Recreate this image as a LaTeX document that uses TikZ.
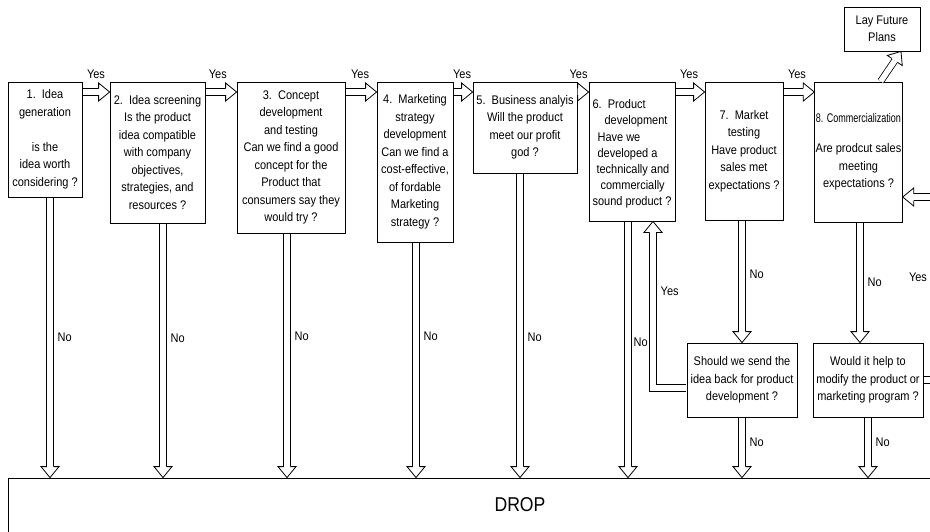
\documentclass[tikz,border=0pt]{standalone}
\usepackage{fontspec}
\setmainfont{Liberation Sans}[FakeStretch=0.88]
\usetikzlibrary{decorations.markings}

% open block-arrow head, put at the end of a hollow connector
\newcommand{\blockhead}{%
  \fill[white] (0pt,0pt) -- (-11pt,9pt) -- (-11pt,-9pt) -- cycle;
  \draw[shorten >=0pt, line join=miter] (-11pt,3.15pt) -- (-11pt,9pt)
    -- (0pt,0pt) -- (-11pt,-9pt) -- (-11pt,-3.15pt);}

\begin{document}
\begin{tikzpicture}[x=1pt, y=-1pt, line width=.8pt,
    font=\fontsize{12.5}{17.5}\selectfont,
    stage/.style={draw, fill=white, align=center, inner sep=1pt},
    hollow/.style={double, double distance=5.5pt, shorten <=.4pt, shorten >=11pt,
      postaction={decorate, decoration={markings,
        mark=at position 1 with {\blockhead}}}},
    toplabel/.style={above=10pt},
    sidelabel/.style={right, xshift=4pt}]
  \useasboundingbox (0,0) rectangle (930,531);
  \clip (0,0) rectangle (930,531);

  % stages
  \node[stage, minimum width=74pt, minimum height=115pt] (idea) at (45,139.5)
    {1.\ \ Idea\\generation\\[17.5pt]is the\\idea worth\\considering ?};
  \node[stage, minimum width=95pt, minimum height=141pt] (screen) at (157.5,152.5)
    {2.\ \ Idea screening\\Is the product\\idea compatible\\with company\\objectives,\\strategies, and\\resources ?};
  \node[stage, minimum width=108pt, minimum height=151pt] (concept) at (291,157.5)
    {3.\ \ Concept\\development\\and testing\\Can we find a good\\concept for the\\Product that\\consumers say they\\would try ?};
  \node[stage, minimum width=76pt, minimum height=160pt] (strategy) at (415,162)
    {4.\ \ Marketing\\strategy\\development\\Can we find a\\cost-effective,\\of fordable\\Marketing\\strategy ?};
  \node[stage, minimum width=104pt, minimum height=91pt] (business) at (525,127.5)
    {5.\ \ Business analyis\\Will the product\\meet our profit\\god ?};
  \node[stage, align=left, minimum width=86pt, minimum height=139pt,
    font=\fontsize{12.5}{16.2}\selectfont] (develop) at (632,151.5)
    {\mbox{}\\[-2.2pt]6.\ \ Product\\\hspace*{12pt}development\\\hspace*{5pt}Have we\\\hspace*{5pt}developed a\\\hspace*{4pt}technically and\\\hspace*{8pt}commercially\\sound product ?};
  \node[stage, minimum width=78pt, minimum height=138pt] (market) at (744,151)
    {7.\ \ Market\\testing\\Have product\\sales met\\expectations ?};
  \node[stage, minimum width=87pt, minimum height=140pt] (commerce) at (858.5,152)
    {\scalebox{.82}[1]{8. Commercialization}\\[12.5pt]Are prodcut sales\\meeting\\expectations ?};
  \node[stage, minimum width=76pt, minimum height=44pt] (future) at (882,29)
    {Lay Future\\Plans};
  \node[stage, minimum width=110pt, minimum height=74pt] (sendback) at (742,380)
    {Should we send the\\idea back for product\\development ?};
  \node[stage, minimum width=110pt, minimum height=74pt] (modify) at (868,380)
    {Would it help to\\modify the product or\\marketing program ?};
  \node[draw, fill=white, minimum width=1024pt, minimum height=54pt,
    font=\fontsize{20}{24}\selectfont] (drop) at (520,505) {DROP};

  % yes: on to the next stage
  \coordinate (yesrow) at (0,92);
  \draw[hollow] (idea.east |- yesrow) -- node[toplabel, pos=.5] {Yes} (screen.west |- yesrow);
  \draw[hollow] (screen.east |- yesrow) -- node[toplabel, pos=.4] {Yes} (concept.west |- yesrow);
  \draw[hollow] (concept.east |- yesrow) -- node[toplabel, pos=.47] {Yes} (strategy.west |- yesrow);
  \draw[hollow] (strategy.east |- yesrow) -- node[toplabel, pos=.45] {Yes} (business.west |- yesrow);
  \draw[hollow] (business.east |- yesrow) -- node[toplabel, pos=.1] {Yes} (develop.west |- yesrow);
  \draw[hollow] (develop.east |- yesrow) -- node[toplabel, pos=.47] {Yes} (market.west |- yesrow);
  \draw[hollow] (market.east |- yesrow) -- node[toplabel, pos=.44] {Yes} (commerce.west |- yesrow);
  \draw[hollow] ([xshift=22pt]commerce.north) -- ([xshift=19pt]future.south);

  % no: down to drop
  \draw[hollow] ([xshift=5pt]idea.south) coordinate (n1) -- node[sidelabel, pos=.5] {No} (n1 |- drop.north);
  \draw[hollow] ([xshift=5.5pt]screen.south) coordinate (n2) -- node[sidelabel, pos=.45] {No} (n2 |- drop.north);
  \draw[hollow] ([xshift=-4pt]concept.south) coordinate (n3) -- node[sidelabel, pos=.42] {No} (n3 |- drop.north);
  \draw[hollow] ([xshift=1pt]strategy.south) coordinate (n4) -- node[sidelabel, pos=.4] {No} (n4 |- drop.north);
  \draw[hollow] ([xshift=-5pt]business.south) coordinate (n5) -- node[sidelabel, pos=.54] {No} (n5 |- drop.north);
  \draw[hollow] ([xshift=-4pt]develop.south) coordinate (n6) -- node[sidelabel, xshift=-2pt, pos=.47] {No} (n6 |- drop.north);
  \draw[hollow] ([xshift=-2pt]market.south) coordinate (n7) -- node[sidelabel, pos=.44] {No} (n7 |- sendback.north);
  \draw[hollow] ([xshift=1.5pt]commerce.south) coordinate (n8) -- node[sidelabel, pos=.5] {No} (n8 |- modify.north);
  \draw[hollow] (sendback.south) -- node[sidelabel, pos=.41] {No} (sendback.south |- drop.north);
  \draw[hollow] (modify.south) -- node[sidelabel, pos=.41] {No} (modify.south |- drop.north);

  % yes: loops back
  \draw[hollow] ([yshift=-8pt]sendback.west) -| node[sidelabel, pos=.79] {Yes} ([xshift=21pt]develop.south);
  \coordinate (loopback) at (950,197);
  \draw[hollow] (modify.east) -| (loopback) -- (commerce.east |- loopback);
  \node (loopyes) at (918,277) {Yes};
\end{tikzpicture}
\end{document}
